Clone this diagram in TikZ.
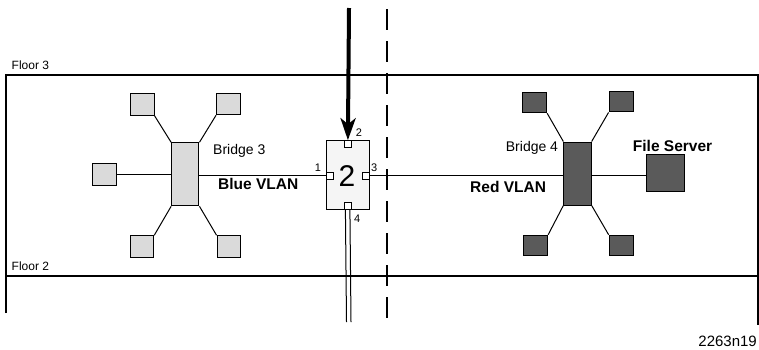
\documentclass[tikz,border=0pt]{standalone}
\usepackage{fontspec}
\setmainfont{Liberation Sans}
\usetikzlibrary{arrows.meta}
\definecolor{lightg}{HTML}{DADADA}
\definecolor{darkg}{HTML}{5A5A5A}
\definecolor{swfill}{HTML}{F5F5F5}
\tikzset{
  wire/.style={line width=1pt, draw=black},
  lbox/.style={draw=black, line width=1pt, fill=lightg, minimum width=23.5pt, minimum height=21.5pt, inner sep=0pt},
  dbox/.style={draw=black, line width=1pt, fill=darkg, minimum width=24.3pt, minimum height=20.5pt, inner sep=0pt},
  bridge/.style={draw=black, line width=1pt, minimum width=27.3pt, minimum height=63pt, inner sep=0pt},
  port/.style={draw=black, line width=1pt, fill=white, minimum width=7pt, minimum height=7pt, inner sep=0pt},
  plabel/.style={font=\fontsize{11pt}{12pt}\selectfont, inner sep=0pt},
  txt/.style={font=\fontsize{14pt}{16pt}\selectfont, inner sep=0pt},
  btxt/.style={font=\fontsize{15.5pt}{17pt}\selectfont\bfseries, inner sep=0pt},
  ftxt/.style={font=\fontsize{12pt}{14pt}\selectfont, inner sep=0pt},
}
\begin{document}
\begin{tikzpicture}[x=1pt,y=-1pt]
\useasboundingbox (0,0) rectangle (759,349);
% floors
\draw[line width=1.3pt] (6,313) -- (6,75) -- (758,75) -- (758,325);
\draw[line width=1.3pt] (6,276) -- (758,276);
\node[ftxt, anchor=west] (f3) at (11.5,65) {Floor 3};
\node[ftxt, anchor=west] (f2) at (11.5,266.5) {Floor 2};
\node[font=\fontsize{15pt}{17pt}\selectfont, inner sep=0pt, anchor=east] (fig) at (757,341) {2263n19};
% dashed boundary
\coordinate (dtop) at (387,9.3);
\coordinate (dbot) at (387,318.5);
\draw[line width=1.3pt, dash pattern=on 21pt off 11pt] (dtop) -- (dbot);
% switch
\node[draw=black, line width=1pt, fill=swfill, minimum width=42.3pt, minimum height=68.3pt, inner sep=0pt] (sw) at (347.9,174.9) {};
\node[font=\fontsize{30pt}{32pt}\selectfont, inner sep=0pt] (swl) at (347,176) {2};
\node[port, anchor=north] (p2) at (sw.north) {};
\node[port, anchor=west] (p1) at ([yshift=-0.9pt]sw.west) {};
\node[port, anchor=east] (p3) at ([yshift=-0.9pt]sw.east) {};
\node[port, anchor=south] (p4) at (sw.south) {};
\node[plabel] (l1) at (318,168) {1};
\node[plabel] (l2) at (359,132.5) {2};
\node[plabel] (l3) at (374.3,168) {3};
\node[plabel] (l4) at (357.3,219) {4};
% incoming arrow
\coordinate (atop) at (349,8);
\draw[line width=4pt, -{Stealth[length=22pt, width=15pt, inset=6pt]}] (atop) -- (p2.north);
% double line down from port 4
\coordinate (d1) at (346.5,322);
\coordinate (d2) at (351,322);
\draw[wire] ([xshift=-2.5pt]p4.south) -- (d1);
\draw[wire] ([xshift=2pt]p4.south) -- (d2);
% bridge 3
\node[bridge, fill=lightg] (b3) at (185.3,174.3) {};
\node[lbox] (a1) at (142.3,104.5) {};
\node[lbox] (a2) at (228.3,104) {};
\node[lbox] (a3) at (104.5,174.3) {};
\node[lbox] (a4) at (142,246.5) {};
\node[lbox] (a5) at (228.8,246.5) {};
\draw[wire] (b3.north west) -- (a1.south east);
\draw[wire] (b3.north east) -- (a2.south west);
\draw[wire] (b3.west) -- (a3.east);
\draw[wire] (b3.south west) -- (a4.north east);
\draw[wire] (b3.south east) -- (a5.north west);
\draw[wire] (p1.west) -- (p1.west -| b3.east);
\node[txt, anchor=west] (b3l) at (213,151) {Bridge 3};
\node[btxt, anchor=west] (bvl) at (218,184) {Blue VLAN};
% bridge 4
\node[bridge, fill=darkg] (b4) at (577.5,173.5) {};
\node[dbox] (c1) at (534.5,102.5) {};
\node[dbox] (c2) at (621.2,101.7) {};
\node[dbox] (c4) at (535.5,245.5) {};
\node[dbox] (c5) at (621.3,245.5) {};
\node[draw=black, line width=1pt, fill=darkg, minimum width=37.6pt, minimum height=36.7pt, inner sep=0pt] (fs) at (665.5,173.3) {};
\draw[wire] (b4.north west) -- (c1.south east);
\draw[wire] (b4.north east) -- (c2.south west);
\draw[wire] (b4.south west) -- (c4.north east);
\draw[wire] (b4.south east) -- (c5.north west);
\draw[wire] (p3.east) -- (p3.east -| b4.west);
\draw[wire] (p3.east -| b4.east) -- (p3.east -| fs.west);
\node[txt, anchor=west] (b4l) at (505.7,148.3) {Bridge 4};
\node[btxt, anchor=west] (rvl) at (470,187) {Red VLAN};
\node[btxt, anchor=west] (fsl) at (632.7,146) {File Server};
\end{tikzpicture}
\end{document}
